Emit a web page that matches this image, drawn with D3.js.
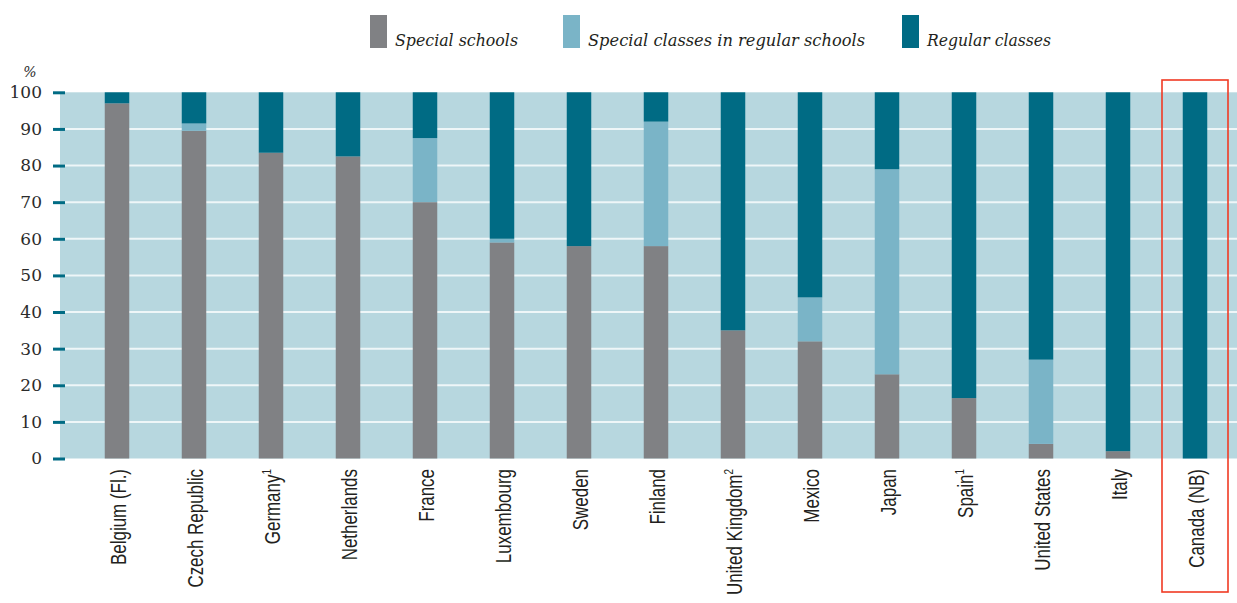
<!DOCTYPE html>
<html lang="en">
<head>
    <script src="https://d3js.org/d3.v7.min.js"></script>
    <style>
        body { margin: 0; background: #fff; }
    </style>
</head>
<body>
    <div id="chart"></div>
    <script>
        // values (percent)
        const countries = ["Belgium (Fl.)", "Czech Republic", "Germany|1", "Netherlands", "France", "Luxembourg",
            "Sweden", "Finland", "United Kingdom|2", "Mexico", "Japan", "Spain|1", "United States", "Italy", "Canada (NB)"];
        const specialSchools = [97, 89.5, 83.5, 82.5, 70, 59, 58, 58, 35, 32, 23, 16.5, 4, 2, 0];
        const specialClasses = [0, 2, 0, 0, 17.5, 1, 0, 34, 0, 12, 56, 0, 23, 0, 0];
        const regularClasses = [3, 8.5, 16.5, 17.5, 12.5, 40, 42, 8, 65, 56, 21, 83.5, 73, 98, 100];
        const seriesNames = ["Special schools", "Special classes in regular schools", "Regular classes"];
        const seriesColors = ["#808184", "#7ab4c7", "#006b84"];
        const yTicks = [0, 10, 20, 30, 40, 50, 60, 70, 80, 90, 100];

        const width = 1237, height = 603;
        const plot = { left: 60, right: 1237, top: 92.3, bottom: 458.5 };

        const svg = d3.select("#chart").append("svg")
            .attr("width", width)
            .attr("height", height);

        const x = d3.scaleBand()
            .domain(countries)
            .range([78.5, 78.5 + 77 * countries.length])
            .paddingInner(52.5 / 77)
            .paddingOuter(52.5 / 77 / 2);

        const y = d3.scaleLinear()
            .domain([0, 100])
            .range([plot.bottom, plot.top]);

        // background
        svg.append("rect")
            .attr("x", plot.left)
            .attr("y", y(100))
            .attr("width", plot.right - plot.left)
            .attr("height", y(0) - y(100))
            .attr("fill", "#b7d7df");

        // grid lines
        svg.selectAll(".grid")
            .data(yTicks.filter(d => d > 0 && d < 100))
            .enter().append("line")
            .attr("x1", plot.left)
            .attr("x2", plot.right)
            .attr("y1", d => y(d))
            .attr("y2", d => y(d))
            .attr("stroke", "#eef6f8")
            .attr("stroke-width", 2);

        // stacked bars
        const rows = countries.map((c, i) => ({
            country: c,
            s0: specialSchools[i], s1: specialClasses[i], s2: regularClasses[i]
        }));
        const stack = d3.stack().keys(["s0", "s1", "s2"])(rows);

        svg.append("g").selectAll("g")
            .data(stack)
            .enter().append("g")
            .attr("fill", (d, i) => seriesColors[i])
            .selectAll("rect")
            .data(d => d)
            .enter().append("rect")
            .attr("x", d => x(d.data.country))
            .attr("y", d => y(d[1]))
            .attr("width", x.bandwidth())
            .attr("height", d => Math.max(0, y(d[0]) - y(d[1])));

        // y axis
        const yAxis = svg.append("g")
            .attr("transform", `translate(${plot.left},0)`)
            .call(d3.axisLeft(y).tickValues(yTicks).tickSize(0).tickPadding(18));
        yAxis.select(".domain").remove();
        yAxis.selectAll("text")
            .attr("font-family", "'DejaVu Serif', 'Liberation Serif', serif")
            .attr("font-size", 17)
            .attr("fill", "#2b2b2b");
        yAxis.selectAll(".tick").append("line")
            .attr("x1", -7).attr("x2", 5)
            .attr("stroke", "#006b84")
            .attr("stroke-width", 3);

        svg.append("text")
            .attr("x", 30)
            .attr("y", 77)
            .attr("text-anchor", "middle")
            .attr("font-family", "'DejaVu Serif', serif")
            .attr("font-style", "italic")
            .attr("font-size", 14)
            .attr("fill", "#2b2b2b")
            .text("%");

        // x labels, rotated and condensed along the text
        const xLabels = svg.append("g").selectAll("text")
            .data(countries)
            .enter().append("text")
            .attr("transform", d => `translate(${x(d) + x.bandwidth() / 2 + 9},469) rotate(-90) scale(0.77,1)`)
            .attr("text-anchor", "end")
            .attr("font-family", "'Liberation Sans', Arial, sans-serif")
            .attr("font-size", 22)
            .attr("fill", "#231f20");
        xLabels.each(function(d) {
            const parts = d.split("|");
            const t = d3.select(this);
            t.append("tspan").text(parts[0]);
            if (parts[1]) {
                t.append("tspan")
                    .attr("font-size", 13)
                    .attr("dy", -9)
                    .text(parts[1]);
            }
        });

        // legend
        const legendX = [370, 563, 902];
        const legendTextX = [395, 588, 927];
        const legendTextW = [123, 277, 124];
        const legend = svg.append("g").selectAll("g")
            .data(seriesNames)
            .enter().append("g")
            .attr("transform", (d, i) => `translate(${legendX[i]},15)`);
        legend.append("rect")
            .attr("width", 17)
            .attr("height", 33)
            .attr("fill", (d, i) => seriesColors[i]);
        legend.append("text")
            .attr("x", (d, i) => legendTextX[i] - legendX[i])
            .attr("y", 31)
            .attr("font-family", "'DejaVu Serif', serif")
            .attr("font-style", "italic")
            .attr("font-size", 16)
            .attr("textLength", (d, i) => legendTextW[i])
            .attr("lengthAdjust", "spacingAndGlyphs")
            .attr("fill", "#231f20")
            .text(d => d);

        // highlight box around the last country
        const last = countries[countries.length - 1];
        svg.append("rect")
            .attr("x", x(last) + x.bandwidth() / 2 - 33)
            .attr("y", 80)
            .attr("width", 66)
            .attr("height", 512)
            .attr("fill", "none")
            .attr("stroke", "#f03a24")
            .attr("stroke-width", 1.6);
    </script>
</body>
</html>
